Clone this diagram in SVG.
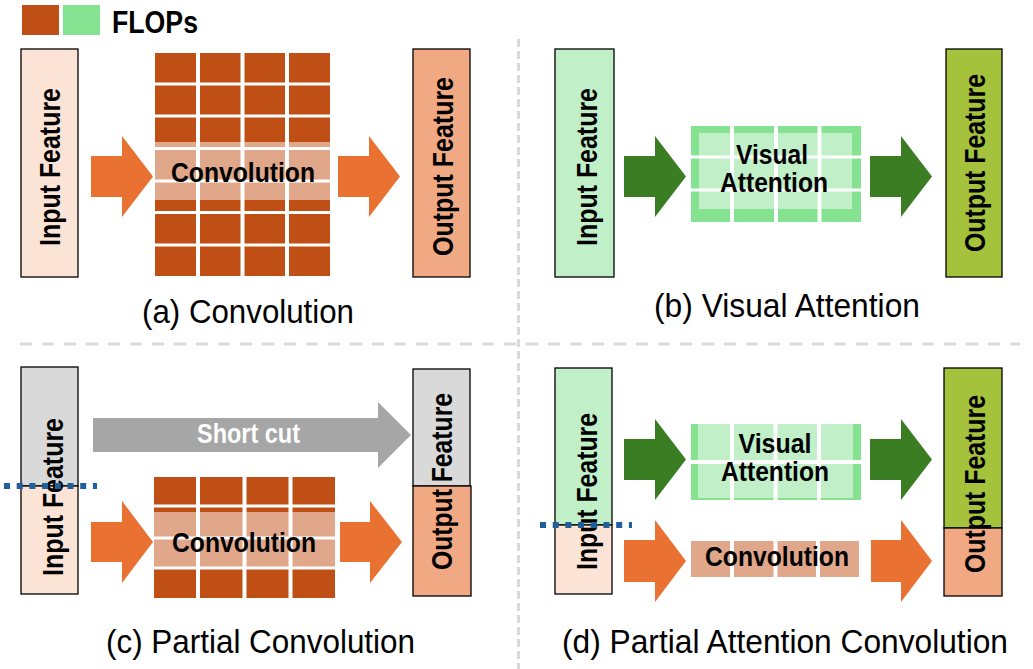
<svg xmlns="http://www.w3.org/2000/svg" width="1033" height="669" viewBox="0 0 1033 669">
<style>
.lbl{font-family:"Liberation Sans",Arial,sans-serif;font-weight:bold;fill:#000;}
.cap{font-family:"Liberation Sans",Arial,sans-serif;font-size:33px;fill:#000;}
.box{stroke:#000;stroke-width:1.3;}
.brown{fill:#C04F15;}
.band{fill:#E1A78A;}
.orange{fill:#E97132;}
.dgreen{fill:#3B7D23;}
.gl{stroke:#fff;}
.div{stroke:#D9D9D9;stroke-width:3;fill:none;}
.dot{stroke:#215F9A;stroke-width:6;stroke-dasharray:6 6.7;fill:none;}
</style>
<rect width="1033" height="669" fill="#fff"/>

<g id="legend">
<rect x="22" y="5" width="37" height="30" class="brown"/>
<rect x="63" y="5" width="37" height="30" fill="#84E291"/>
<text x="112" y="33" class="lbl" font-size="32" textLength="86" lengthAdjust="spacingAndGlyphs">FLOPs</text>
</g>

<g id="dividers">
<line x1="518.5" y1="39" x2="518.5" y2="669" class="div" stroke-dasharray="8 4"/>
<line x1="20" y1="344" x2="1020" y2="344" class="div" stroke-dasharray="12 10"/>
</g>

<!-- (a) -->
<g id="a-input">
<rect x="21" y="49" width="57" height="228" fill="#FBE3D6" class="box"/>
<text transform="translate(60,167) rotate(-90)" text-anchor="middle" class="lbl" font-size="30" textLength="158" lengthAdjust="spacingAndGlyphs">Input Feature</text>
</g>
<g id="a-conv">
<rect x="155" y="53" width="175" height="223" class="brown"/>
<rect x="155" y="142" width="175" height="58" class="band"/>
<g class="gl" stroke-width="4">
<line x1="198" y1="53" x2="198" y2="276"/><line x1="242.5" y1="53" x2="242.5" y2="276"/><line x1="287" y1="53" x2="287" y2="276"/>
</g>
<g class="gl" stroke-width="3">
<line x1="155" y1="84" x2="330" y2="84"/><line x1="155" y1="116" x2="330" y2="116"/><line x1="155" y1="148.5" x2="330" y2="148.5"/>
<line x1="155" y1="181" x2="330" y2="181"/><line x1="155" y1="212.5" x2="330" y2="212.5"/><line x1="155" y1="245" x2="330" y2="245"/>
</g>
<text x="243" y="182" text-anchor="middle" class="lbl" font-size="28" textLength="144" lengthAdjust="spacingAndGlyphs">Convolution</text>
</g>
<g id="a-output">
<rect x="413" y="49" width="57" height="228" fill="#F1A983" class="box"/>
<text transform="translate(453,166.5) rotate(-90)" text-anchor="middle" class="lbl" font-size="30" textLength="179" lengthAdjust="spacingAndGlyphs">Output Feature</text>
</g>
<text id="a-caption" x="248" y="323" text-anchor="middle" class="cap" textLength="212" lengthAdjust="spacingAndGlyphs">(a) Convolution</text>

<!-- (b) -->
<g id="b-input">
<rect x="555" y="49" width="59" height="228" fill="#C1F0C8" class="box"/>
<text transform="translate(597,167) rotate(-90)" text-anchor="middle" class="lbl" font-size="30" textLength="158" lengthAdjust="spacingAndGlyphs">Input Feature</text>
</g>
<g id="b-attn">
<rect x="691" y="126" width="170" height="96" fill="#84E291"/>
<rect x="699" y="133" width="153" height="76" fill="#C1F0C8"/>
<g class="gl" stroke-width="4">
<line x1="732" y1="126" x2="732" y2="222"/><line x1="776" y1="126" x2="776" y2="222"/><line x1="819.5" y1="126" x2="819.5" y2="222"/>
</g>
<g class="gl" stroke-width="3">
<line x1="691" y1="157" x2="861" y2="157"/><line x1="691" y1="190" x2="861" y2="190"/>
</g>
<text x="772" y="164" text-anchor="middle" class="lbl" font-size="28" textLength="72" lengthAdjust="spacingAndGlyphs">Visual</text>
<text x="774" y="192" text-anchor="middle" class="lbl" font-size="28" textLength="108" lengthAdjust="spacingAndGlyphs">Attention</text>
</g>
<g id="b-output">
<rect x="946" y="49" width="56" height="228" fill="#A4C23B" class="box"/>
<text transform="translate(985,163) rotate(-90)" text-anchor="middle" class="lbl" font-size="30" textLength="178" lengthAdjust="spacingAndGlyphs">Output Feature</text>
</g>
<text id="b-caption" x="787" y="317" text-anchor="middle" class="cap" textLength="266" lengthAdjust="spacingAndGlyphs">(b) Visual Attention</text>

<!-- (c) -->
<g id="c-input">
<rect x="21" y="367" width="57" height="119" fill="#D9D9D9" class="box"/>
<rect x="21" y="486" width="57" height="108" fill="#FBE3D6" class="box"/>
<text transform="translate(63,497) rotate(-90)" text-anchor="middle" class="lbl" font-size="30" textLength="158" lengthAdjust="spacingAndGlyphs">Input Feature</text>
</g>
<g id="c-conv">
<rect x="154" y="477" width="181" height="121" class="brown"/>
<rect x="154" y="512" width="181" height="55" class="band"/>
<g class="gl" stroke-width="4">
<line x1="198" y1="477" x2="198" y2="598"/><line x1="244.5" y1="477" x2="244.5" y2="598"/><line x1="290.5" y1="477" x2="290.5" y2="598"/>
</g>
<g class="gl" stroke-width="3">
<line x1="154" y1="506" x2="335" y2="506"/><line x1="154" y1="538" x2="335" y2="538"/><line x1="154" y1="568" x2="335" y2="568"/>
</g>
<text x="244" y="552" text-anchor="middle" class="lbl" font-size="28" textLength="144" lengthAdjust="spacingAndGlyphs">Convolution</text>
</g>
<g id="c-output">
<rect x="413" y="369" width="57" height="117" fill="#D9D9D9" class="box"/>
<rect x="413" y="486" width="58" height="110" fill="#F1A983" class="box"/>
<text transform="translate(452,481.5) rotate(-90)" text-anchor="middle" class="lbl" font-size="30" textLength="177" lengthAdjust="spacingAndGlyphs">Output Feature</text>
</g>
<text id="c-caption" x="260.5" y="653" text-anchor="middle" class="cap" textLength="309" lengthAdjust="spacingAndGlyphs">(c) Partial Convolution</text>

<!-- (d) -->
<g id="d-input">
<rect x="555" y="368" width="57" height="157" fill="#C1F0C8" class="box"/>
<rect x="555" y="525" width="57" height="69" fill="#FBE3D6" class="box"/>
<text transform="translate(597,491.5) rotate(-90)" text-anchor="middle" class="lbl" font-size="30" textLength="157" lengthAdjust="spacingAndGlyphs">Input Feature</text>
</g>
<g id="d-attn">
<rect x="691" y="424" width="170" height="76" fill="#84E291"/>
<rect x="698" y="424" width="155" height="74" fill="#C1F0C8"/>
<g class="gl" stroke-width="4">
<line x1="732" y1="424" x2="732" y2="500"/><line x1="775.5" y1="424" x2="775.5" y2="500"/><line x1="819" y1="424" x2="819" y2="500"/>
</g>
<line x1="691" y1="462" x2="861" y2="462" class="gl" stroke-width="4"/>
<text x="775" y="453" text-anchor="middle" class="lbl" font-size="28" textLength="73" lengthAdjust="spacingAndGlyphs">Visual</text>
<text x="775" y="481" text-anchor="middle" class="lbl" font-size="28" textLength="108" lengthAdjust="spacingAndGlyphs">Attention</text>
</g>
<g id="d-conv">
<rect x="691" y="541" width="168" height="36" class="band"/>
<g class="gl" stroke-width="4">
<line x1="732" y1="541" x2="732" y2="577"/><line x1="775.5" y1="541" x2="775.5" y2="577"/><line x1="818" y1="541" x2="818" y2="577"/>
</g>
<text x="777" y="566" text-anchor="middle" class="lbl" font-size="28" textLength="144" lengthAdjust="spacingAndGlyphs">Convolution</text>
</g>
<g id="d-output">
<rect x="944" y="368" width="58" height="160" fill="#A4C23B" class="box"/>
<rect x="944" y="528" width="58" height="68" fill="#F1A983" class="box"/>
<text transform="translate(985,484) rotate(-90)" text-anchor="middle" class="lbl" font-size="30" textLength="178" lengthAdjust="spacingAndGlyphs">Output Feature</text>
</g>
<text id="d-caption" x="785" y="653" text-anchor="middle" class="cap" textLength="446" lengthAdjust="spacingAndGlyphs">(d) Partial Attention Convolution</text>

<g id="connectors">
<polygon class="orange" points="91,156 122,156 122,136 153,176.5 122,217 122,197 91,197"/>
<polygon class="orange" points="338,156 369,156 369,136 400,176.5 369,217 369,197 338,197"/>
<polygon class="dgreen" points="624,156 655,156 655,136 686,176.5 655,217 655,197 624,197"/>
<polygon class="dgreen" points="870,156 901,156 901,136 932,176.5 901,217 901,197 870,197"/>
<polygon fill="#A6A6A6" points="93,418 378,418 378,402 411,435 378,468 378,452 93,452"/>
<text x="248.5" y="443" text-anchor="middle" class="lbl" style="fill:#fff" font-size="27" textLength="103" lengthAdjust="spacingAndGlyphs">Short cut</text>
<polygon class="orange" points="91,522 122,522 122,501 153,542 122,583 122,562 91,562"/>
<polygon class="orange" points="340,522 370,522 370,501 402,542 370,583 370,562 340,562"/>
<polygon class="dgreen" points="624,439 655,439 655,419 686,459.5 655,500 655,480 624,480"/>
<polygon class="dgreen" points="870,439 901,439 901,419 932,459.5 901,500 901,480 870,480"/>
<polygon class="orange" points="624,540 655,540 655,520 686,561 655,602 655,582 624,582"/>
<polygon class="orange" points="871,540 901,540 901,520 932,561 901,602 901,582 871,582"/>
</g>

<g id="splits">
<line x1="4" y1="486" x2="97" y2="486" class="dot"/>
<line x1="540" y1="525" x2="632" y2="525" class="dot"/>
</g>
</svg>
